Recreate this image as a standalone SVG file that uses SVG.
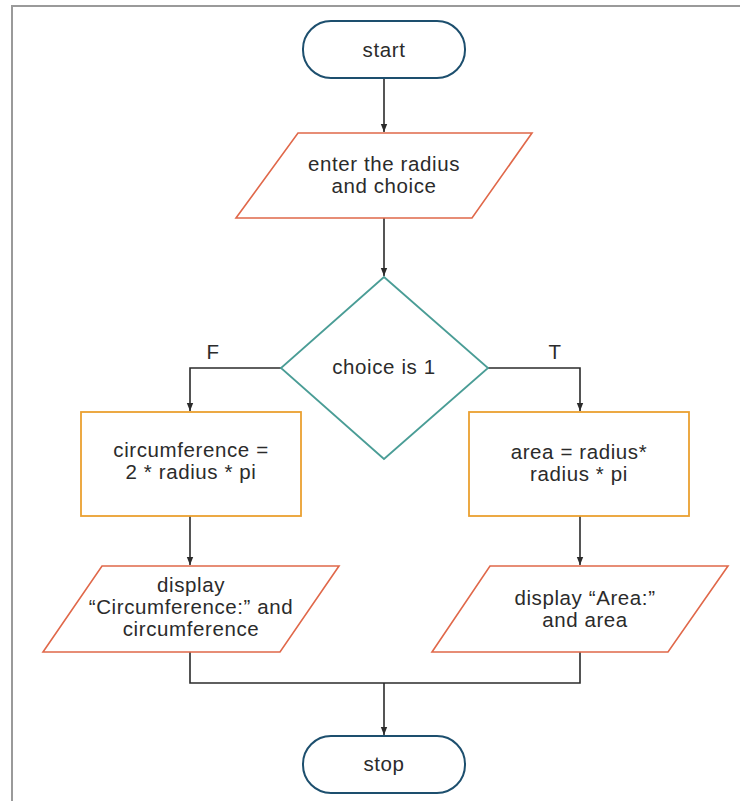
<svg xmlns="http://www.w3.org/2000/svg" width="740" height="801" viewBox="0 0 740 801">
<defs>
<marker id="ah" viewBox="0 0 10 10" refX="10" refY="5" markerWidth="8" markerHeight="8" markerUnits="userSpaceOnUse" orient="auto"><path d="M0,1 L10,5 L0,9 Z" fill="#2b2b2b"/></marker>
<style>
.term{fill:#fff;stroke:#1d4f6e;stroke-width:2}
.io{fill:#fff;stroke:#e0684a;stroke-width:1.6}
.proc{fill:#fff;stroke:#eaa030;stroke-width:1.8}
.dec{fill:#fff;stroke:#4a9d96;stroke-width:1.8}
.conn{fill:none;stroke:#2b2b2b;stroke-width:1.6}
text{font-family:"Liberation Sans",Arial,sans-serif;font-size:20.5px;fill:#2b2b2b;text-anchor:middle;letter-spacing:0.6px}
</style>
</defs>
<rect width="740" height="801" fill="#fff"/>
<path d="M12,801 V6 H740" fill="none" stroke="#9a9a9a" stroke-width="2"/>
<g id="connectors">
<path class="conn" d="M384,78 V132" marker-end="url(#ah)"/>
<path class="conn" d="M384,218 V276" marker-end="url(#ah)"/>
<path class="conn" d="M281,368 H190 V411" marker-end="url(#ah)"/>
<path class="conn" d="M488,368 H580 V411" marker-end="url(#ah)"/>
<path class="conn" d="M190,516 V565" marker-end="url(#ah)"/>
<path class="conn" d="M580,516 V565" marker-end="url(#ah)"/>
<path class="conn" d="M190,652 V683 H580 V652"/>
<path class="conn" d="M384,683 V735" marker-end="url(#ah)"/>
<text x="213" y="359">F</text>
<text x="555" y="359">T</text>
</g>
<g id="start">
<rect class="term" x="303" y="21" width="162" height="57" rx="28" ry="28"/>
<text x="384" y="57">start</text>
</g>
<g id="input">
<polygon class="io" points="298,133 532,133 472,218 236,218"/>
<text x="384" y="171">enter the radius</text>
<text x="384" y="193">and choice</text>
</g>
<g id="decision">
<polygon class="dec" points="384,277 488,368 384,459 281,368"/>
<text x="384" y="374">choice is 1</text>
</g>
<g id="circ">
<rect class="proc" x="81" y="412" width="220" height="104"/>
<text x="191" y="457">circumference =</text>
<text x="191" y="479">2 * radius * pi</text>
</g>
<g id="area">
<rect class="proc" x="469" y="412" width="220" height="104"/>
<text x="579" y="459">area = radius*</text>
<text x="579" y="481">radius * pi</text>
</g>
<g id="dispcirc">
<polygon class="io" points="102,566 339,566 280,652 43,652"/>
<text x="191" y="592">display</text>
<text x="191" y="614">“Circumference:” and</text>
<text x="191" y="636">circumference</text>
</g>
<g id="disparea">
<polygon class="io" points="490,566 728,566 668,652 432,652"/>
<text x="585" y="605">display “Area:”</text>
<text x="585" y="627">and area</text>
</g>
<g id="stop">
<rect class="term" x="303" y="736" width="162" height="57" rx="28" ry="28"/>
<text x="384" y="771">stop</text>
</g>
</svg>
